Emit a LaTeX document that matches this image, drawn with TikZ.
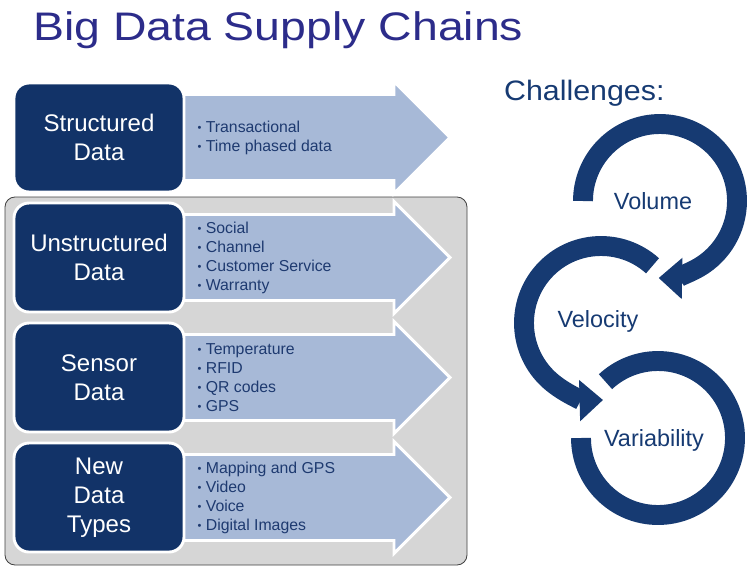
\documentclass[tikz,border=0pt]{standalone}
\usepackage{fontspec}
\setmainfont{Liberation Sans}
\usetikzlibrary{positioning,backgrounds,arrows.meta}

\definecolor{titleblue}{RGB}{44,44,138}
\definecolor{boxnavy}{RGB}{18,51,104}
\definecolor{feedblue}{RGB}{167,185,215}
\definecolor{panelgray}{RGB}{214,214,214}
\definecolor{listblue}{RGB}{30,58,112}
\definecolor{ringnavy}{RGB}{22,58,114}

\newcommand{\litem}{\raisebox{0.12ex}{\scalebox{0.7}{\textbullet}}\ }

\tikzset{
  databox/.style={fill=boxnavy, draw=white, line width=2.5pt, rounded corners=0.45cm,
    minimum width=5.1cm, minimum height=3.27cm, inner sep=0pt, outer sep=0pt,
    text=white, align=center, font=\fontsize{20.5}{24.6}\selectfont},
  itemlist/.style={text=listblue, align=left, inner sep=0pt, font=\fontsize{13.5}{16.2}\selectfont},
  feedarrow/.style={fill=feedblue, draw=white, line width=2.5pt, line join=miter},
  ring/.style={draw=ringnavy, line width=17pt},
  ringtip/.style={-{Triangle[width=34pt,length=20pt]}},
  ringlabel/.style={text=ringnavy, font=\fontsize{20}{24}\selectfont},
  pics/feed/.style={code={
    \path[feedarrow] (-14,43) -- (210,43) -- (210,56) -- (266,0) -- (210,-56) -- (210,-43) -- (-14,-43) -- cycle;}}
}

\begin{document}
\begin{tikzpicture}[x=0.03cm,y=0.03cm,node distance=0.33cm]
\useasboundingbox (0,0) rectangle (751,-580);

% headings
\node[anchor=base west, text=titleblue, font=\fontsize{34}{40}\selectfont] (title) at (29,-40) {\scalebox{1.165}[1]{Big Data Supply Chains}};
\node[anchor=base west, text=ringnavy, font=\fontsize{24}{28}\selectfont] (chal) at (500,-100) {\scalebox{1.08}[1]{Challenges:}};

% data sources
\node[databox] (struct) at (99,-137.5) {Structured\\Data};
\node[databox, below=of struct] (unstruct) {Unstructured\\Data};
\node[databox, below=of unstruct] (sensor) {Sensor\\Data};
\node[databox, below=of sensor] (newtypes) {New\\Data\\Types};

\begin{pgfonlayer}{background}
  \draw[fill=panelgray, draw=black!75, line width=0.7pt, rounded corners=0.3cm] (5,-197) rectangle (467,-565);
  \pic at (struct.east) {feed};
  \pic at (unstruct.east) {feed};
  \pic at (sensor.east) {feed};
  \pic at (newtypes.east) {feed};
\end{pgfonlayer}

\node[itemlist, right=0.4cm of struct] (structlist) {\litem Transactional\\\litem Time phased data};
\node[itemlist, right=0.4cm of unstruct] (unstructlist) {\litem Social\\\litem Channel\\\litem Customer Service\\\litem Warranty};
\node[itemlist, right=0.4cm of sensor] (sensorlist) {\litem Temperature\\\litem RFID\\\litem QR codes\\\litem GPS};
\node[itemlist, right=0.4cm of newtypes] (newtypeslist) {\litem Mapping and GPS\\\litem Video\\\litem Voice\\\litem Digital Images};

% challenges cycle
\draw[ring, ringtip] (660,-201) ++(180:77) arc[start angle=180, end angle=-91, radius=77];
\draw[ring, ringtip] (601,-323) ++(48:77) arc[start angle=48, end angle=271.5, radius=77];
\draw[ring] (658,-438) ++(180:77) arc[start angle=180, end angle=493, radius=77];

\node[ringlabel] (vol) at (653,-201) {Volume};
\node[ringlabel] (vel) at (598,-321) {Velocity};
\node[ringlabel] (var) at (654,-440) {Variability};

\end{tikzpicture}
\end{document}
